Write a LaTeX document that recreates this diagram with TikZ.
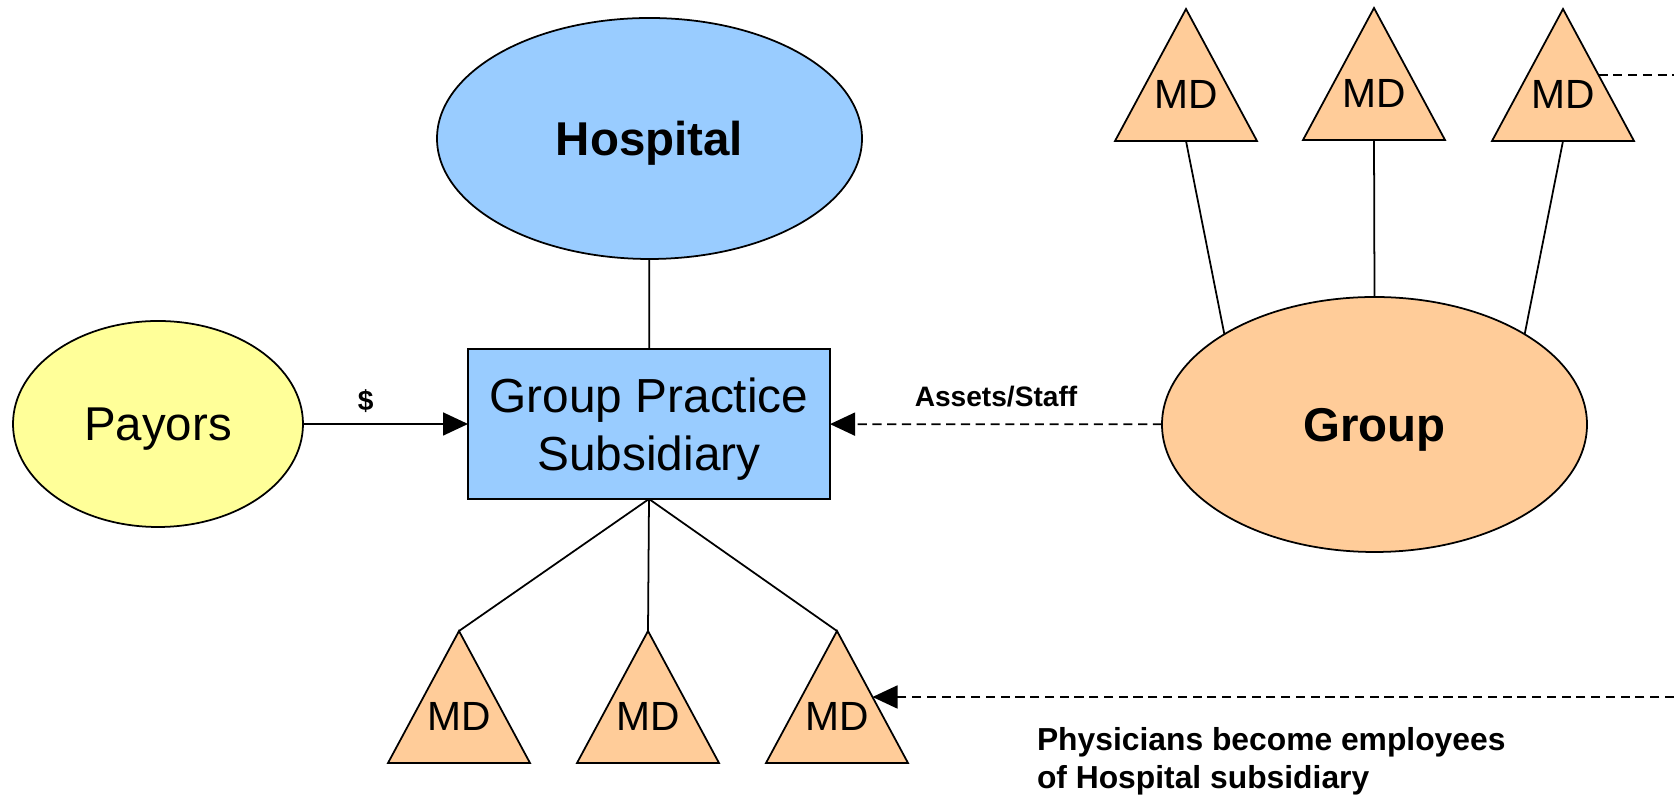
\documentclass[tikz,border=0pt]{standalone}
\usepackage{fontspec}
\setmainfont{Liberation Sans}
\usetikzlibrary{shapes.geometric,arrows.meta}
\definecolor{hospblue}{HTML}{99CCFF}
\definecolor{payyellow}{HTML}{FFFF99}
\definecolor{mdorange}{HTML}{FFCC99}

\begin{document}
\begin{tikzpicture}
        [line width=0.5pt,every node/.style={draw,outer sep=0pt},
         blob/.style={ellipse,inner sep=0pt,text depth=0pt},
         md/.style={isosceles triangle,isosceles triangle apex angle=56,shape border rotate=90,
                    isosceles triangle stretches,minimum width=1.42cm,minimum height=1.32cm,
                    inner sep=0pt,anchor=apex,text depth=0.27cm,fill=mdorange,
                    font=\fontsize{11.6}{14}\selectfont},
         lbl/.style={draw=none,font=\bfseries\fontsize{8}{10}\selectfont},
         dashline/.style={dash pattern=on 2.6pt off 1.6pt},
         tip/.style={-{Triangle[length=0.25cm,width=0.23cm]}}]
        \useasboundingbox (0,0) rectangle (16.74,-7.95);
        \node[blob,fill=hospblue,minimum width=4.25cm,minimum height=2.41cm,
              font=\bfseries\fontsize{13.5}{16}\selectfont] (hosp) at (6.495,-1.385) {Hospital};
        \node[blob,fill=payyellow,minimum width=2.90cm,minimum height=2.06cm,
              font=\fontsize{13.5}{16}\selectfont] (pay) at (1.58,-4.24) {Payors};
        \node[fill=hospblue,minimum width=3.62cm,minimum height=1.50cm,align=center,text depth=0pt,
              font=\fontsize{13.6}{16.4}\selectfont] (gps) at (6.49,-4.24) {Group Practice\\Subsidiary};
        \node[blob,fill=mdorange,minimum width=4.25cm,minimum height=2.55cm,
              font=\bfseries\fontsize{13.5}{16}\selectfont] (grp) at (13.745,-4.245) {Group};
        \node[md] (mdt1) at (11.86,-0.09) {MD};
        \node[md] (mdt2) at (13.74,-0.08) {MD};
        \node[md] (mdt3) at (15.63,-0.09) {MD};
        \node[md] (mdb1) at (4.59,-6.31) {MD};
        \node[md] (mdb2) at (6.48,-6.31) {MD};
        \node[md] (mdb3) at (8.37,-6.31) {MD};
        \coordinate (rim) at (16.74,0);
        \node[draw=none,anchor=base west,align=left,inner sep=0pt,
              font=\bfseries\fontsize{9.05}{11}\selectfont] (note) at (10.37,-7.89)
              {Physicians become employees\\of Hospital subsidiary};

        % hospital side
        \draw (hosp) -- (gps);
        \draw[tip] (pay) -- node[lbl,above,pos=0.38] {\$} (gps);
        \draw (gps.south) -- (mdb1.apex);
        \draw (gps.south) -- (mdb2.apex);
        \draw (gps.south) -- (mdb3.apex);
        % group side
        \draw (mdt1.lower side) -- (grp.149);
        \draw (mdt2.lower side) -- (grp.north);
        \draw (mdt3.lower side) -- (grp.31);
        % moves
        \draw[dashline,tip] (grp) -- node[lbl,above,yshift=0.05cm] {Assets/Staff} (gps);
        \draw[dashline] (mdt3.right side) -- (mdt3.right side -| rim);
        \draw[dashline,tip] (rim |- mdb3.right side) -- (mdb3.right side);
    \end{tikzpicture}
\end{document}
